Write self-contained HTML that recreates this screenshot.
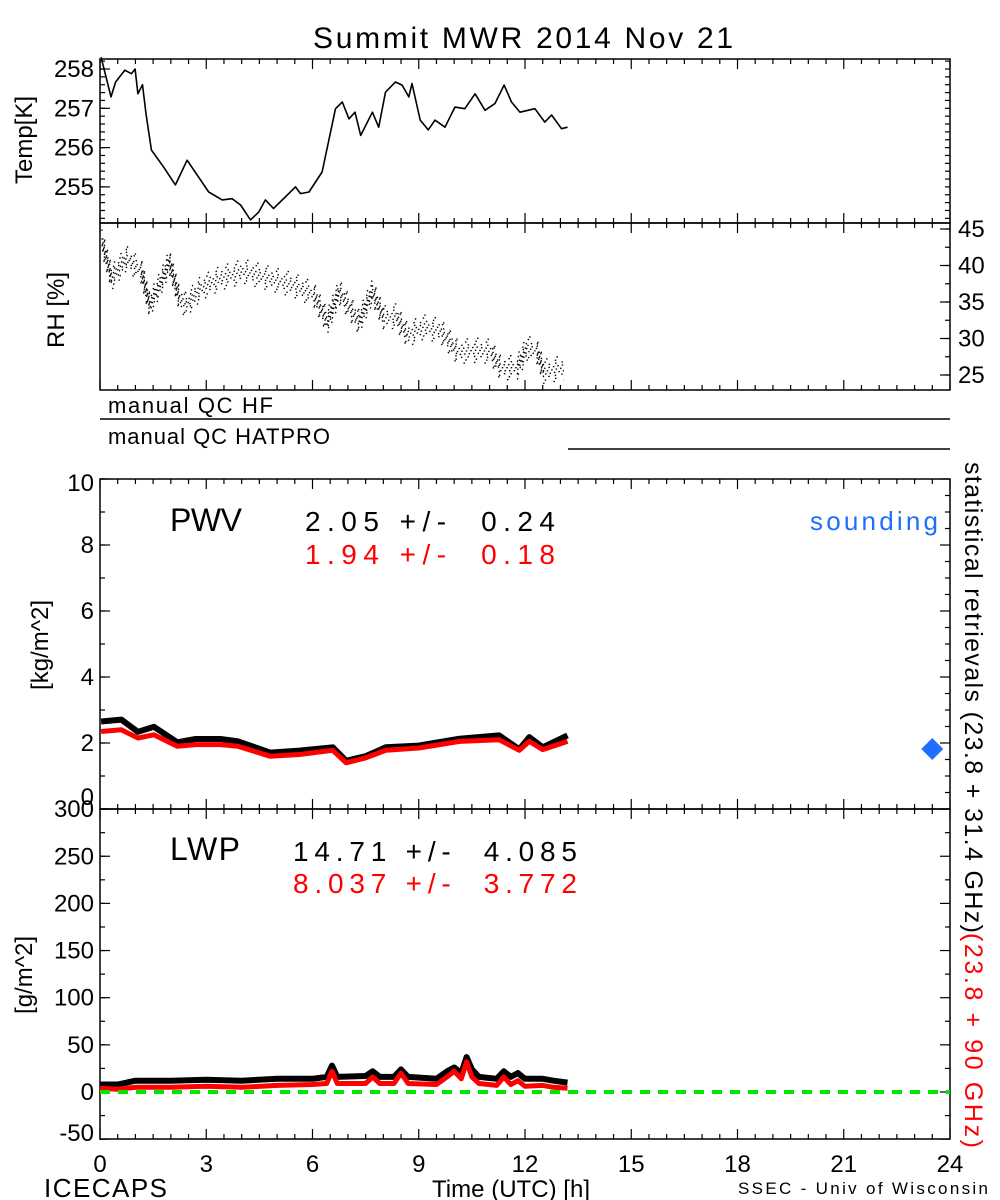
<!DOCTYPE html>
<html><head><meta charset="utf-8"><style>
html,body{margin:0;padding:0;background:#fff;}
svg{display:block;font-family:"Liberation Sans","DejaVu Sans",sans-serif;}
</style></head><body>
<svg id="chart" width="1000" height="1200" viewBox="0 0 1000 1200" xmlns="http://www.w3.org/2000/svg">
<rect width="1000" height="1200" fill="#fff"/>
<text x="523" y="48" font-size="30" text-anchor="middle" textLength="420">Summit MWR 2014 Nov 21</text>
<g id="frames" fill="none" stroke="#000" stroke-width="1.5"></g>
<g id="ticks" stroke="#000" stroke-width="1.2"></g>
<g id="labels" font-size="24"></g>
<g id="series"></g>
<text x="108" y="413" font-size="22" textLength="165">manual QC HF</text>
<line x1="100" y1="419" x2="950" y2="419" stroke="#000" stroke-width="1.5"/>
<text x="108" y="444" font-size="22" textLength="222">manual QC HATPRO</text>
<line x1="568" y1="449" x2="950" y2="449" stroke="#000" stroke-width="1.5"/>
<text x="170" y="531" font-size="32" textLength="72">PWV</text>
<text x="305" y="531" font-size="28" textLength="250" xml:space="preserve">2.05 +/-  0.24</text>
<text x="305" y="564" font-size="28" fill="#ff0000" textLength="250" xml:space="preserve">1.94 +/-  0.18</text>
<text x="810" y="530" font-size="26" fill="#1e6eff" textLength="128">sounding</text>
<text x="170" y="860" font-size="32" textLength="70">LWP</text>
<text x="293" y="861" font-size="28" textLength="284" xml:space="preserve">14.71 +/-  4.085</text>
<text x="293" y="893" font-size="28" fill="#ff0000" textLength="284" xml:space="preserve">8.037 +/-  3.772</text>
<text transform="translate(965,462) rotate(90)" font-size="25" textLength="471">statistical retrievals (23.8 + 31.4 GHz)</text>
<text transform="translate(965,933) rotate(90)" font-size="25" fill="#ff0000" textLength="215">(23.8 + 90 GHz)</text>
<text x="44" y="1197" font-size="26" textLength="123">ICECAPS</text>
<text x="432" y="1197" font-size="24" textLength="158">Time (UTC) [h]</text>
<text x="738" y="1194" font-size="17" textLength="250">SSEC - Univ of Wisconsin</text>
</svg>
<script>
// ---- data ----
const tempHours = [0.03,0.31,0.44,0.7,0.89,0.99,1.07,1.2,1.3,1.45,1.8,2.13,2.46,3.07,3.45,3.73,3.97,4.25,4.48,4.67,4.9,5.52,5.66,5.9,6.27,6.65,6.84,7.03,7.2,7.36,7.69,7.87,8.06,8.34,8.53,8.72,8.81,9.04,9.27,9.46,9.74,10.02,10.3,10.59,10.87,11.15,11.41,11.62,11.86,12.28,12.56,12.75,13.03,13.2];
const tempValues = [258.3,257.29,257.67,257.97,257.88,258.0,257.37,257.6,256.86,255.94,255.5,255.05,255.68,254.87,254.67,254.7,254.54,254.16,254.36,254.67,254.45,255.0,254.83,254.87,255.38,256.99,257.16,256.73,256.9,256.31,256.9,256.52,257.41,257.67,257.59,257.29,257.63,256.7,256.45,256.7,256.52,257.03,256.99,257.37,256.95,257.12,257.59,257.16,256.9,256.99,256.65,256.83,256.48,256.52];
const rhHours = [0.05,0.33,0.75,1.17,1.4,1.73,1.96,2.24,2.43,2.85,3.42,4.07,4.73,5.48,6.04,6.42,6.75,7.31,7.69,8.02,8.35,8.68,9.15,9.62,10.09,10.65,11.03,11.31,11.78,12.06,12.34,12.53,13.1];
const rhValues = [43.3,38.3,41.0,39.2,34.6,37.8,40.5,35.5,34.6,36.9,38.3,39.2,38.3,37.3,36.0,32.3,36.4,32.3,36.4,32.8,33.1,30.5,31.6,31.0,28.2,28.4,28.2,26.0,26.0,28.7,28.2,25.5,26.0];
const pwvHours = [0.03,0.6,1.07,1.52,2.18,2.7,3.4,3.9,4.8,5.63,6.57,6.95,7.5,8.07,9.0,10.15,11.27,11.84,12.12,12.5,13.2];
const pwvBlack = [2.65,2.71,2.34,2.49,2.02,2.12,2.12,2.05,1.71,1.77,1.87,1.46,1.6,1.87,1.92,2.13,2.23,1.81,2.18,1.87,2.23];
const pwvRed = [2.35,2.4,2.15,2.25,1.9,1.95,1.95,1.9,1.6,1.65,1.78,1.4,1.55,1.78,1.85,2.05,2.1,1.78,2.05,1.8,2.05];
const lwpHours = [0,0.5,1,2,3,4,5,6,6.4,6.55,6.7,7.5,7.7,7.9,8.3,8.5,8.7,9.5,9.8,10.0,10.2,10.35,10.5,10.7,11.2,11.4,11.6,11.8,12.0,12.5,12.8,13.2];
const lwpBlack = [8,8,12,12,13,12,14,14,16,28,16,17,22,16,16,24,16,14,22,26,20,37,24,16,14,22,16,20,14,14,12,10];
const lwpRed = [4,3,5,5,6,5,7,8,9,22,9,9,16,9,9,20,9,8,16,22,14,32,16,9,7,16,8,12,6,7,5,4];
const soundingHour = [23.5];
const soundingPwv = [1.82];
const xTicks = [0,3,6,9,12,15,18,21,24];

// ---- axes ----
const X0=100, X1=950;
const xs = h => X0 + (X1-X0)*h/24;
const yT = v => 69 + (258 - v)*39.3;
const yR = v => 229 + (45 - v)*7.3;
const yP = v => 809 - v*33;
const yL = v => 1092 - v*0.943;
const NS='http://www.w3.org/2000/svg';
function mk(tag, attrs, parent){const e=document.createElementNS(NS,tag);for(const k in attrs)e.setAttribute(k,attrs[k]);parent.appendChild(e);return e;}
const frames=document.getElementById('frames'), ticks=document.getElementById('ticks'), labels=document.getElementById('labels'), series=document.getElementById('series');

const panels=[[59,223,'temp'],[223,390,'rh'],[479,809,'pwv'],[809,1139,'lwp']];
panels.forEach(p=>{
  const r=mk('rect',{x:X0,y:p[0],width:X1-X0,height:p[1]-p[0]},frames);
  
  
  for(let h=0;h<=24.001;h+=0.5){
    const major = Math.abs(h%3)<0.01; const len = major?10:5;
    mk('line',{x1:xs(h),x2:xs(h),y1:p[0],y2:p[0]+len},ticks);
    mk('line',{x1:xs(h),x2:xs(h),y1:p[1],y2:p[1]-len},ticks);
  }
});
xTicks.forEach(h=>{
  const t=mk('text',{x:xs(h),y:1172,'text-anchor':'middle','font-size':24},labels);
  t.textContent=h;
  
  
});
function yAxis(vals, fn, side, minorStep, lo, hi, name, off){
  vals.forEach(v=>{
    const y=fn(v);
    const xx = side==='left'?X0:X1, d = side==='left'?1:-1;
    mk('line',{x1:xx,x2:xx+d*10,y1:y,y2:y},ticks);
    let dy = 8 + (off && off[v]!==undefined ? off[v] : 0);
    const t=mk('text',{x: side==='left'?X0-6:X1+8, y:y+dy,'text-anchor': side==='left'?'end':'start','font-size':24},labels);
    t.textContent = v;
    
    
  });
  for(let v=lo; v<=hi+1e-6; v+=minorStep){
    const y=fn(v); const xx = side==='left'?X0:X1, d = side==='left'?1:-1;
    mk('line',{x1:xx,x2:xx+d*5,y1:y,y2:y},ticks);
  }
}
yAxis([258,257,256,255], yT, 'left', 0.2, 254.2, 258.2, 'temp');
yAxis([45,40,35,30,25], yR, 'right', 2.5, 25, 45, 'rh');
yAxis([10,8,6,4,2,0], yP, 'left', 1, 0, 10, 'pwv', {10:4, 0:-12});
yAxis([300,250,200,150,100,50,0,-50], yL, 'left', 25, -50, 300, 'lwp', {'-50':-6});
for(let v=0;v<=10;v+=0.5){mk('line',{x1:X1,x2:X1-(v%2===0?10:5),y1:yP(v),y2:yP(v)},ticks);}
for(let v=-50;v<=300;v+=25){mk('line',{x1:X1,x2:X1-(v%50===0?10:5),y1:yL(v),y2:yL(v)},ticks);}
for(let v=254.2;v<=258.2;v+=0.2){mk('line',{x1:X1,x2:X1-5,y1:yT(v),y2:yT(v)},ticks);}

[['Temp[K]',22,140,'temp-axis-title'],['RH [%]',54,310,'rh-axis-title'],['[kg/m^2]',38,645,'pwv-axis-title'],['[g/m^2]',22,975,'lwp-axis-title']].forEach(a=>{
  const t=mk('text',{transform:`translate(${a[1]+10},${a[2]}) rotate(-90)`,'text-anchor':'middle','font-size':24},labels);
  t.textContent=a[0];
  
  
});

function line(hours, vals, fn, color, width, name, dash, dy, doff){
  dy = dy||0;
  const pts = hours.map((h,i)=>xs(h).toFixed(1)+','+(fn(vals[i])+dy).toFixed(1)).join(' ');
  const pl = mk('polyline',{points:pts,fill:'none',stroke:color,'stroke-width':width,'stroke-linejoin':'round'},series);
  if(dash){ pl.setAttribute('stroke-dasharray',dash); pl.setAttribute('stroke-dashoffset',doff||0); }
  
  
  return pl;
}
line(tempHours,tempValues,yT,'#000',1.6,'temp-series');
const rhOffsets=[-12,-9,-6,-3,0,3,6,9,12];
rhOffsets.forEach((o,k)=>{
  const gap = Math.abs(o)>8 ? '1.5 9' : (Math.abs(o)>4 ? '1.5 5' : '1.5 3');
  line(rhHours,rhValues,yR,'#000',1.3,'rh-series-scatter',gap,o,k*1.7);
});
line(pwvHours,pwvBlack,yP,'#000',6,'pwv-series-black');
line(pwvHours,pwvRed,yP,'#ff0000',5,'pwv-series-red');
line(lwpHours,lwpBlack,yL,'#000',6,'lwp-series-black');
line(lwpHours,lwpRed,yL,'#ff0000',5,'lwp-series-red');
const zl=mk('line',{x1:X0,x2:X1,y1:yL(0),y2:yL(0),stroke:'#00e600','stroke-width':4,'stroke-dasharray':'10 8'},series);


soundingHour.forEach((h,i)=>{
  const cx=xs(h), cy=yP(soundingPwv[i]);
  const d=mk('polygon',{points:`${cx},${cy-11} ${cx+11},${cy} ${cx},${cy+11} ${cx-11},${cy}`,fill:'#1e6eff'},series);
  
  
});
</script>
</body></html>
